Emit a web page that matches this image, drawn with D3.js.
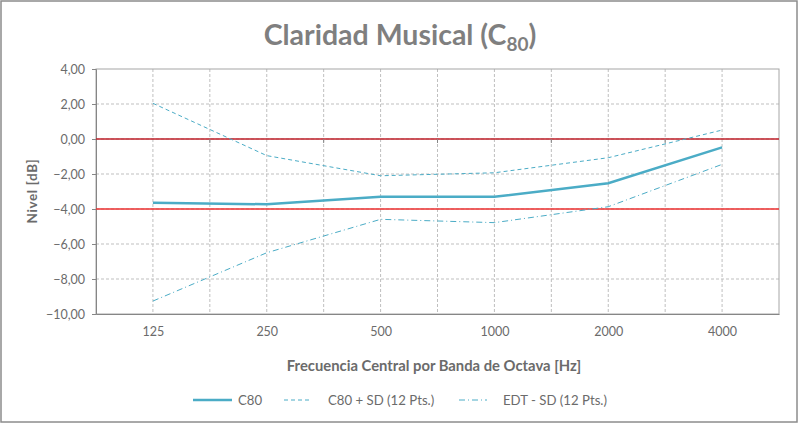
<!DOCTYPE html>
<html><head><meta charset="utf-8">
<script src="https://cdn.jsdelivr.net/npm/d3@7/dist/d3.min.js"></script>
<style>body{margin:0;background:#fff;font-family:Lato,"Open Sans",sans-serif}</style>
</head><body><svg id="c" width="800" height="425"></svg>
<script>
const categories = ["125","250","500","1000","2000","4000"];
const c80 = [-3.64,-3.73,-3.30,-3.30,-2.53,-0.48];
const c80PlusSD = [2.04,-0.95,-2.10,-1.93,-1.07,0.51];
const edtMinusSD = [-9.26,-6.50,-4.59,-4.78,-3.87,-1.45];
const yTicks = [4,2,0,-2,-4,-6,-8,-10];
const refLines = [0,-4];
const seriesNames = ["C80","C80 + SD (12 Pts.)","EDT - SD (12 Pts.)"];

const svg = d3.select("#c");
const FONT="Lato,'Open Sans',sans-serif";
svg.append("rect").attr("x",1).attr("y",1).attr("width",796).attr("height",421)
  .attr("fill","#fff").attr("stroke","#8c8c8c").attr("stroke-width",1.5);

const L=96,R=779,T=69,B=314;
const x = d3.scaleLinear().domain([0.5,categories.length+0.5]).range([L,R]);
const y = d3.scaleLinear().domain([-10,4]).range([B,T]);

// grid
const g = svg.append("g");
const vgrid = d3.range(1,categories.length+0.5,0.5);
g.selectAll(".vg").data(vgrid).enter().append("line")
  .attr("x1",d=>x(d)).attr("x2",d=>x(d)).attr("y1",T).attr("y2",B)
  .attr("stroke","#bfbfbf").attr("stroke-dasharray","3,2");
g.selectAll(".hg").data(yTicks.filter(d=>d>-10 && d<4)).enter().append("line")
  .attr("x1",L).attr("x2",R).attr("y1",d=>y(d)).attr("y2",d=>y(d))
  .attr("stroke","#bfbfbf").attr("stroke-dasharray","3,2");

// plot border
svg.append("rect").attr("x",L).attr("y",T).attr("width",R-L).attr("height",B-T)
  .attr("fill","none").attr("stroke","#a6a6a6").attr("stroke-width",1);

// y axis
const ya = svg.append("g").attr("transform",`translate(${L},0)`)
  .call(d3.axisLeft(y).tickValues(yTicks).tickSize(4).tickPadding(7)
    .tickFormat(d=>d3.format(".2f")(d).replace(".",",")));
ya.select(".domain").attr("stroke","#868686");
ya.selectAll(".tick line").attr("stroke","#868686");
ya.selectAll("text").attr("fill","#6b6b6b").style("font-family",FONT).style("font-size","12.5px");

// x axis labels
const xa = svg.append("g").attr("transform",`translate(0,${B})`)
  .call(d3.axisBottom(x).tickValues(d3.range(1,categories.length+1)).tickSize(0).tickPadding(13)
    .tickFormat((d,i)=>categories[i]));
xa.select(".domain").attr("stroke","#868686");
xa.selectAll("text").attr("fill","#6b6b6b").style("font-family",FONT).style("font-size","12.5px");

// reference lines
svg.selectAll(".ref").data(refLines).enter().append("line")
  .attr("x1",L).attr("x2",R).attr("y1",d=>y(d)).attr("y2",d=>y(d))
  .attr("stroke",(d,i)=>i===0?"#c0202a":"#ee3030").attr("stroke-width",1.5);
// small ticks on 0 line (axis crossing)
svg.selectAll(".zt").data(d3.range(1.5,categories.length+0.5,1)).enter().append("line")
  .attr("x1",d=>x(d)).attr("x2",d=>x(d)).attr("y1",y(0)).attr("y2",y(0)+4)
  .attr("stroke","#868686");

// series
const color="#4bacc6";
const line = d3.line().x((d,i)=>x(i+1)).y(d=>y(d));
const series=[
  {v:c80,w:2.5,dash:null},
  {v:c80PlusSD,w:1,dash:"4,3"},
  {v:edtMinusSD,w:1,dash:"6,3,1,3"}
];
series.forEach(s=>{
  svg.append("path").datum(s.v).attr("d",line).attr("fill","none")
    .attr("stroke",color).attr("stroke-width",s.w)
    .attr("stroke-dasharray",s.dash);
});

// title
const title = svg.append("text").attr("x",400).attr("y",45).attr("text-anchor","middle")
  .attr("fill","#7f7f7f").style("font-family",FONT)
  .style("font-size","28.5px").style("font-weight","bold");
title.append("tspan").text("Claridad Musical (C");
title.append("tspan").text("80").attr("dy",6).style("font-size","19px");
title.append("tspan").text(")").attr("dy",-6);

// axis titles
svg.append("text").attr("transform","translate(37,191) rotate(-90)").attr("text-anchor","middle")
  .attr("fill","#6b6b6b").style("font-family",FONT)
  .style("font-size","13.5px").style("font-weight","bold").style("letter-spacing","0.6px").text("Nivel [dB]");
svg.append("text").attr("x",434).attr("y",371).attr("text-anchor","middle")
  .attr("fill","#6b6b6b").style("font-family",FONT)
  .style("font-size","14.8px").style("font-weight","bold").text("Frecuencia Central por Banda de Octava [Hz]");

// legend
const legX=[193,284,459];
const leg = svg.selectAll(".leg").data(series).enter().append("g")
  .attr("transform",(d,i)=>`translate(${legX[i]},400)`);
leg.append("line").attr("x1",0).attr("x2",(d,i)=>i===0?39:28).attr("y1",0).attr("y2",0)
  .attr("stroke",color).attr("stroke-width",d=>d.w).attr("stroke-dasharray",d=>d.dash);
leg.append("text").attr("x",(d,i)=>i===0?45:44).attr("y",4.5).attr("fill","#6b6b6b")
  .style("font-family",FONT).style("font-size","13.2px")
  .text((d,i)=>seriesNames[i]);
</script></body></html>
